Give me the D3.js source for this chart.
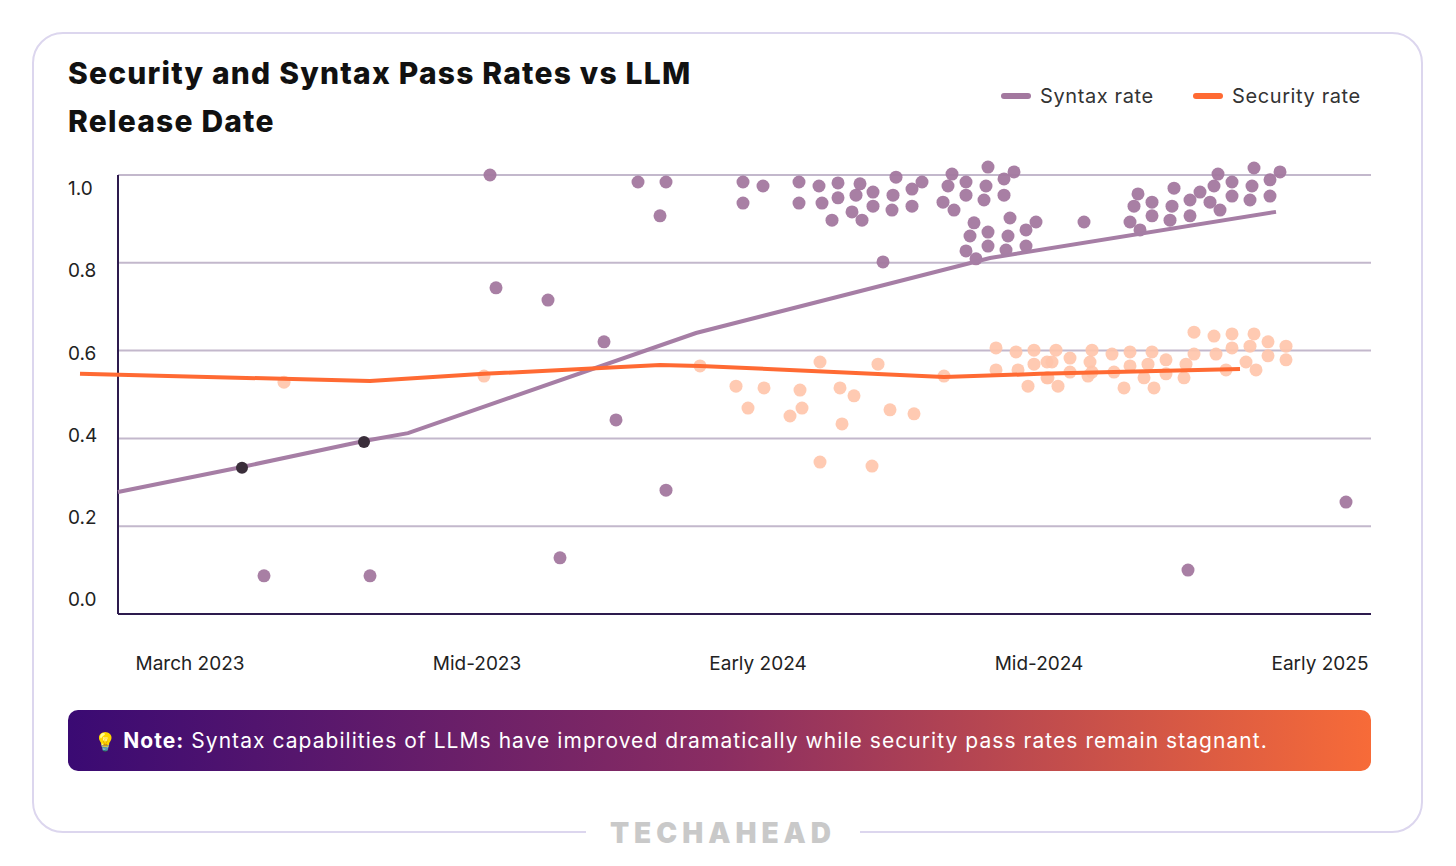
<!DOCTYPE html>
<html><head><meta charset="utf-8">
<script src="https://cdn.jsdelivr.net/npm/d3@7"></script>
<style>body{margin:0;background:#fff}svg{display:block}</style>
</head><body>
<script>
// x values: weeks along the release timeline, y values: pass rate
const syntaxPoints = [
  [62.5,.984],[62.5,.936],[64.5,.975],[68.1,.984],[68.1,.936],[70.1,.975],[70.4,.936],[72,.982],[72,.948],[71.4,.897],
  [73.8,.954],[73.4,.916],[74.2,.98],[74.4,.897],[75.5,.961],[75.5,.929],[77.8,.995],[77.5,.954],[77.4,.92],[79.4,.968],
  [79.4,.929],[80.4,.984],[83.4,1.002],[83,.975],[82.5,.938],[83.6,.92],[84.8,.984],[84.8,.954],[87,1.018],[86.8,.975],
  [86.6,.943],[88.6,.991],[88.6,.954],[89.6,1.007],[85.6,.891],[85.2,.861],[84.8,.827],[85.8,.809],[87,.87],[87,.838],
  [89.2,.902],[89,.861],[88.8,.829],[90.8,.875],[90.8,.838],[91.8,.893],[76.5,.802],
  [96.6,.893],[102,.957],[101.6,.929],[101.2,.893],[102.2,.875],[103.4,.938],[103.4,.907],[105.6,.97],[105.4,.929],
  [105.2,.897],[107.2,.943],[107.2,.907],[108.2,.961],[109.2,.938],[110.2,.92],[109.6,.975],[110,1.002],[111.4,.984],
  [111.4,.952],[113.6,1.016],[113.4,.975],[113.2,.943],[115.2,.989],[115.2,.952],[116.2,1.007],
  [37.2,1.0],[37.8,.743],[43,.715],[48.6,.62],[49.8,.442],[54.8,.282],[44.2,.128],[14.6,.087],[25.2,.087],
  [52,.984],[54.8,.984],[54.2,.907],[107,.1],[122.8,.255]
];
const overlapPoints = [[12.4,.333],[24.6,.392]];
const securityPoints = [
  [16.6,.528],[36.6,.542],[58.2,.565],
  [61.8,.519],[63,.469],[64.6,.515],[67.2,.451],[68.2,.51],[68.4,.469],[70.2,.574],[70.2,.346],[72.2,.515],[72.4,.433],
  [73.6,.497],[76,.569],[77.2,.465],[75.4,.337],[79.6,.456],[82.6,.542],[87.8,.606],[87.8,.556],[89.8,.597],[90,.556],
  [91,.519],[91.6,.601],[91.6,.569],[92.9,.574],[92.9,.538],
  [93.8,.601],[93.4,.574],[93,.538],[94,.519],[95.2,.583],[95.2,.551],[97.4,.601],[97.2,.574],[97.4,.551],[97,.542],
  [99.4,.592],[99.6,.551],[100.6,.515],[101.2,.597],[101.2,.565],[102.6,.538],[103,.569],[103.4,.597],[103.6,.515],
  [104.8,.579],[104.8,.547],[106.6,.538],[106.8,.569],[107.6,.642],[107.6,.592],[109.6,.633],[109.8,.592],[110.8,.556],
  [111.4,.638],[111.4,.606],[112.8,.574],[113.2,.61],[113.6,.638],[113.8,.556],[115,.62],[115,.588],[116.8,.61],[116.8,.579]
];
const syntaxTrend = [[0,.278],[12.4,.335],[24.6,.394],[29,.412],[57.8,.64],[87.2,.811],[115.8,.916]];
const securityTrend = [[-3.8,.547],[25.2,.531],[36.6,.547],[54.2,.567],[58.2,.565],[82.6,.54],[92.2,.547],[112.2,.558]];
const xTicks = [7.2, 35.9, 64, 92.1, 120.2];
const xTickLabels = ["March 2023", "Mid-2023", "Early 2024", "Mid-2024", "Early 2025"];
const yTicks = [0, 0.2, 0.4, 0.6, 0.8, 1.0];

const W = 1456, H = 866;
const font = "Inter, 'Open Sans', sans-serif";
const purple = "#a3789f", orange = "#ff6a33", peach = "#ffc4aa";

const svg = d3.select("body").append("svg").attr("width", W).attr("height", H);

// card
svg.append("rect").attr("x", 33).attr("y", 33).attr("width", 1389).attr("height", 799)
  .attr("rx", 30).attr("fill", "#fff").attr("stroke", "#dcd6ee").attr("stroke-width", 2);

svg.append("text").attr("x", 68).attr("font-family", font).attr("font-weight", 800)
  .attr("font-size", 30).attr("letter-spacing", 1.2).attr("fill", "#111")
  .selectAll("tspan").data(["Security and Syntax Pass Rates vs LLM", "Release Date"]).join("tspan")
  .attr("x", 68).attr("y", (d, i) => 84 + i * 48).text(d => d);

// legend
const legend = svg.append("g").attr("font-family", font).attr("font-size", 20)
  .attr("letter-spacing", 0.6).attr("fill", "#333");
[{ x: 1004, c: purple, t: "Syntax rate" }, { x: 1196, c: orange, t: "Security rate" }].forEach(d => {
  legend.append("line").attr("x1", d.x).attr("x2", d.x + 24).attr("y1", 96).attr("y2", 96)
    .attr("stroke", d.c).attr("stroke-width", 6).attr("stroke-linecap", "round");
  legend.append("text").attr("x", d.x + 36).attr("y", 103).text(d.t);
});

const x = d3.scaleLinear().domain([0, 125.3]).range([118, 1371]);
const y = d3.scaleLinear().domain([0, 1]).range([614, 175]);
const yLabel = d3.scaleLinear().domain([0, 1]).range([601, 190]);

// grid
svg.append("g").selectAll("line").data(yTicks.slice(1)).join("line")
  .attr("x1", 118).attr("x2", 1371).attr("y1", d => y(d)).attr("y2", d => y(d))
  .attr("stroke", "#c3b8cc").attr("stroke-width", 2);

// axes
svg.append("line").attr("x1", 118).attr("x2", 118).attr("y1", 175).attr("y2", 614)
  .attr("stroke", "#2d1b4e").attr("stroke-width", 2);
svg.append("line").attr("x1", 118).attr("x2", 1371).attr("y1", 614).attr("y2", 614)
  .attr("stroke", "#2d1b4e").attr("stroke-width", 2);

svg.append("g").attr("font-family", font).attr("font-size", 19).attr("fill", "#222")
  .selectAll("text").data(yTicks).join("text")
  .attr("x", 68).attr("y", d => yLabel(d)).attr("dominant-baseline", "middle")
  .text(d => d.toFixed(1));

svg.append("g").attr("font-family", font).attr("font-size", 19).attr("fill", "#222")
  .selectAll("text").data(xTicks).join("text")
  .attr("x", d => x(d)).attr("y", 670).attr("text-anchor", "middle")
  .text((d, i) => xTickLabels[i]);

const line = d3.line().x(d => x(d[0])).y(d => y(d[1]));

svg.append("g").selectAll("circle").data(securityPoints).join("circle")
  .attr("cx", d => x(d[0])).attr("cy", d => y(d[1])).attr("r", 6.5).attr("fill", peach).attr("opacity", 0.9);
svg.append("g").selectAll("circle").data(syntaxPoints).join("circle")
  .attr("cx", d => x(d[0])).attr("cy", d => y(d[1])).attr("r", 6.5).attr("fill", purple).attr("opacity", 0.95);

svg.append("path").datum(syntaxTrend).attr("d", line).attr("fill", "none")
  .attr("stroke", "#a67ea5").attr("stroke-width", 4);
svg.append("path").datum(securityTrend).attr("d", line).attr("fill", "none")
  .attr("stroke", orange).attr("stroke-width", 4);

svg.append("g").selectAll("circle").data(overlapPoints).join("circle")
  .attr("cx", d => x(d[0])).attr("cy", d => y(d[1])).attr("r", 6).attr("fill", "#3a2e3a");

// note banner
const grad = svg.append("defs").append("linearGradient").attr("id", "note");
grad.append("stop").attr("offset", "0%").attr("stop-color", "#3a0a73");
grad.append("stop").attr("offset", "50%").attr("stop-color", "#8a2d62");
grad.append("stop").attr("offset", "100%").attr("stop-color", "#f76b38");
svg.append("rect").attr("x", 68).attr("y", 710).attr("width", 1303).attr("height", 61).attr("rx", 10)
  .attr("fill", "url(#note)");
const note = svg.append("text").attr("x", 94).attr("y", 748).attr("font-family", font)
  .attr("font-size", 21).attr("letter-spacing", 1.05).attr("fill", "#fff");
note.append("tspan").attr("font-size", 18).text("💡 ");
note.append("tspan").attr("font-weight", 700).text("Note:");
note.append("tspan").text(" Syntax capabilities of LLMs have improved dramatically while security pass rates remain stagnant.");

// footer logo
svg.append("rect").attr("x", 586).attr("y", 820).attr("width", 274).attr("height", 24).attr("fill", "#fff");
svg.append("text").attr("x", 723).attr("y", 843).attr("text-anchor", "middle")
  .attr("font-family", font).attr("font-weight", 900).attr("font-size", 28)
  .attr("letter-spacing", 5).attr("fill", "#c9c9c9").text("TECHAHEAD");
</script>
</body></html>
